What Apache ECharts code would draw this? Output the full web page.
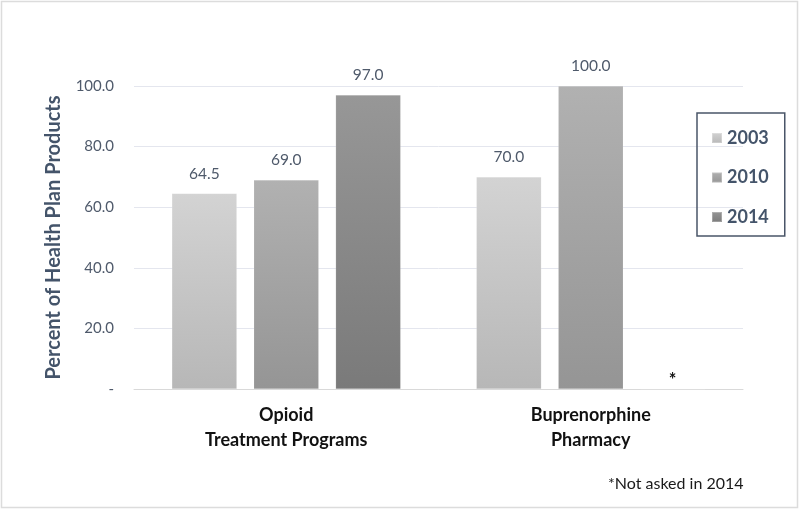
<!DOCTYPE html>
<html>
<head>
<meta charset="utf-8">
<script src="https://cdn.jsdelivr.net/npm/echarts@6/dist/echarts.min.js"></script>
<style>html,body{margin:0;padding:0;background:#fff;}#c{width:800px;height:510px;}</style>
</head>
<body>
<div id="c"></div>
<script>
const categories = ['Opioid\nTreatment Programs', 'Buprenorphine\nPharmacy'];
const seriesNames = ['2003', '2010', '2014'];
const values2003 = [64.5, 70.0];
const values2010 = [69.0, 100.0];
const values2014 = [97.0, 0];
const notAsked2014 = [false, true];
const yTicks = [0, 20, 40, 60, 80, 100];
const footnote = '*Not asked in 2014';

const FONT = 'Lato, "Noto Sans", sans-serif';
const gradients = [
  ['#d3d3d3', '#b7b7b7'],
  ['#b1b1b1', '#959595'],
  ['#979797', '#7a7a7a']
];
function grad(c) {
  return new echarts.graphic.LinearGradient(0, 0, 0, 1, [
    {offset: 0, color: c[0]}, {offset: 1, color: c[1]}
  ]);
}
function makeSeries(name, vals, idx, notes) {
  return {
    name: name,
    type: 'bar',
    barWidth: 65,
    barGap: '26%',
    data: vals.map((v, i) => {
      if (notes && notes[i]) {
        return {value: v, label: {formatter: '*', color: '#111', fontSize: 18, fontWeight: 'bold', distance: 0}};
      }
      return v;
    }),
    itemStyle: {color: grad(gradients[idx]), borderColor: 'rgba(255,255,255,0.25)', borderWidth: 0.5},
    label: {
      show: true, position: 'top', distance: 12,
      color: '#4f5a6b', fontSize: 15.5, fontFamily: FONT,
      formatter: p => p.value.toFixed(1)
    }
  };
}

const chart = echarts.init(document.getElementById('c'));
chart.setOption({
  animation: false,
  backgroundColor: '#fff',
  grid: {left: 134, right: 57, top: 86, bottom: 121},
  legend: {
    orient: 'vertical',
    left: 697, top: 113,
    data: seriesNames,
    icon: 'rect',
    itemWidth: 10, itemHeight: 10,
    itemGap: 21.5,
    padding: [16, 16, 10, 14],
    borderColor: '#4a5568', borderWidth: 1.5,
    textStyle: {fontSize: 18, fontWeight: 'bold', color: '#44546a', fontFamily: FONT}
  },
  xAxis: {
    type: 'category',
    data: categories,
    axisLine: {lineStyle: {color: '#d9d9d9'}},
    axisTick: {show: false},
    axisLabel: {
      color: '#111', fontSize: 18, fontWeight: 'bold', fontFamily: FONT,
      lineHeight: 25, margin: 14, interval: 0
    }
  },
  yAxis: {
    type: 'value',
    min: 0, max: 100, interval: 20,
    name: 'Percent of Health Plan Products',
    nameLocation: 'middle',
    nameGap: 70,
    nameTextStyle: {fontSize: 20, fontWeight: 'bold', color: '#44546a', fontFamily: FONT},
    axisLine: {show: false},
    axisTick: {show: false},
    splitLine: {lineStyle: {color: '#e4e6ee', width: 1}},
    axisLabel: {
      color: '#4f5a6b', fontSize: 15, fontFamily: FONT, margin: 20,
      formatter: v => (yTicks.indexOf(v) === 0 ? '-' : v.toFixed(1))
    }
  },
  series: [
    makeSeries(seriesNames[0], values2003, 0),
    makeSeries(seriesNames[1], values2010, 1),
    makeSeries(seriesNames[2], values2014, 2, notAsked2014)
  ],
  graphic: [
    {type: 'rect', shape: {x: 1.5, y: 1.5, width: 796, height: 506},
     style: {fill: 'none', stroke: '#dcdcdc', lineWidth: 1.5}, silent: true, z: -1},
    {type: 'text', left: 608, top: 476,
     style: {text: footnote, fontSize: 16, fill: '#1a1a1a', fontFamily: FONT}}
  ]
});
</script>
</body>
</html>
